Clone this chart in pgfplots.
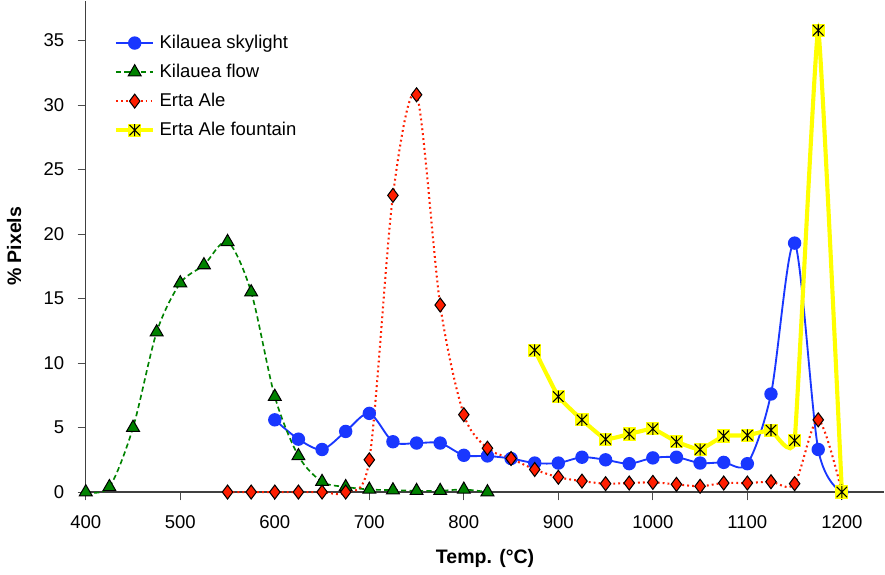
\documentclass[border=0pt]{standalone}
\usepackage{pgfplots}
\pgfplotsset{compat=1.18}
\usepackage{fontspec}
\setmainfont{Liberation Sans}

\definecolor{skyblue}{RGB}{25,55,255}
\definecolor{flowgreen}{RGB}{0,130,0}
\definecolor{ertared}{RGB}{255,30,0}
\definecolor{fountyel}{RGB}{255,255,0}

% yellow square with a black star, like the Excel marker
\pgfdeclareplotmark{sqstar}{%
  \pgfpathrectangle{\pgfqpoint{-\pgfplotmarksize}{-\pgfplotmarksize}}{\pgfqpoint{2\pgfplotmarksize}{2\pgfplotmarksize}}%
  \pgfsetfillcolor{fountyel}\pgfusepath{fill}%
  \pgfsetstrokecolor{black}\pgfsetlinewidth{0.5pt}%
  \pgfpathmoveto{\pgfqpoint{-0.8\pgfplotmarksize}{-0.8\pgfplotmarksize}}\pgfpathlineto{\pgfqpoint{0.8\pgfplotmarksize}{0.8\pgfplotmarksize}}%
  \pgfpathmoveto{\pgfqpoint{-0.8\pgfplotmarksize}{0.8\pgfplotmarksize}}\pgfpathlineto{\pgfqpoint{0.8\pgfplotmarksize}{-0.8\pgfplotmarksize}}%
  \pgfpathmoveto{\pgfqpoint{0pt}{-0.9\pgfplotmarksize}}\pgfpathlineto{\pgfqpoint{0pt}{0.9\pgfplotmarksize}}%
  \pgfusepath{stroke}%
}

\begin{document}
\begin{tikzpicture}
\begin{axis}[
  scale only axis, width=13.65cm, height=8.4cm,
  xmin=400, xmax=1245, ymin=0, ymax=38.1,
  axis x line*=bottom, axis y line*=left,
  axis line style={black!75, line width=0.6pt},
  xtick={400,500,...,1200}, ytick={0,5,...,35},
  tick align=outside, major tick length=4pt,
  tick style={black!70, line width=0.5pt},
  tick label style={font=\fontsize{9}{10}\selectfont},
  /pgf/number format/assume math mode=true,
  /pgf/number format/1000 sep={},
  xticklabel style={yshift=-4pt},
  yticklabel style={xshift=-3pt},
  xlabel={\textbf{Temp. (°C)}}, ylabel={\textbf{\% Pixels}},
  label style={font=\fontsize{9.5}{11}\selectfont},
  xlabel style={yshift=-3pt}, ylabel style={yshift=4pt},
  clip=false,
  legend style={at={(0.027,0.948)}, anchor=north west, draw=none, fill=none,
    font=\fontsize{9}{11}\selectfont, row sep=2.1pt, cells={anchor=west}},
  legend image code/.code={
    \draw[#1] (0cm,0cm) -- (0.32cm,0cm) -- (0.64cm,0cm);
    \draw[#1, only marks] plot coordinates {(0.32cm,0cm)};
  },
]
\addplot[skyblue, line width=0.9pt, smooth, mark=*, mark size=2.8pt,
  mark options={fill=skyblue, draw=skyblue}] coordinates {
  (600,5.6) (625,4.1) (650,3.3) (675,4.7) (700,6.1) (725,3.9) (750,3.8) (775,3.8)
  (800,2.85) (825,2.8) (850,2.6) (875,2.25) (900,2.25) (925,2.7) (950,2.5) (975,2.2)
  (1000,2.65) (1025,2.7) (1050,2.25) (1075,2.3) (1100,2.2) (1125,7.6) (1150,19.3)
  (1175,3.3) (1200,0)};
\addlegendentry{Kilauea skylight}
\addplot[flowgreen, line width=0.8pt, dash pattern=on 2.5pt off 1.6pt, smooth, mark=triangle*, mark size=3.6pt,
  mark options={solid, fill=flowgreen, draw=black, line width=0.5pt}] coordinates {
  (400,0) (425,0.4) (450,5.0) (475,12.4) (500,16.2) (525,17.6) (550,19.4) (575,15.5)
  (600,7.4) (625,2.8) (650,0.8) (675,0.4) (700,0.2) (725,0.15) (750,0.1) (775,0.1)
  (800,0.2) (825,0)};
\addlegendentry{Kilauea flow}
\addplot[ertared, line width=1pt, dash pattern=on 0.9pt off 1.5pt, smooth, mark=diamond*, mark size=3.4pt,
  mark options={solid, fill=ertared, draw=black, line width=0.5pt}] coordinates {
  (550,0) (575,0) (600,0) (625,0) (650,0) (675,0) (700,2.5) (725,23.0) (750,30.8)
  (775,14.5) (800,6.0) (825,3.4) (850,2.6) (875,1.75) (900,1.15) (925,0.85) (950,0.65)
  (975,0.7) (1000,0.75) (1025,0.6) (1050,0.45) (1075,0.7) (1100,0.7) (1125,0.8)
  (1150,0.65) (1175,5.6) (1200,0)};
\addlegendentry{Erta Ale}
\addplot[fountyel, line width=2pt, smooth, tension=0.2, mark=sqstar, mark size=3.2pt] coordinates {
  (875,11.0) (900,7.4) (925,5.6) (950,4.1) (975,4.5) (1000,4.9) (1025,3.9) (1050,3.3)
  (1075,4.35) (1100,4.4) (1125,4.8) (1150,4.0) (1175,35.8) (1200,0)};
\addlegendentry{Erta Ale fountain}
\end{axis}
\end{tikzpicture}
\end{document}
